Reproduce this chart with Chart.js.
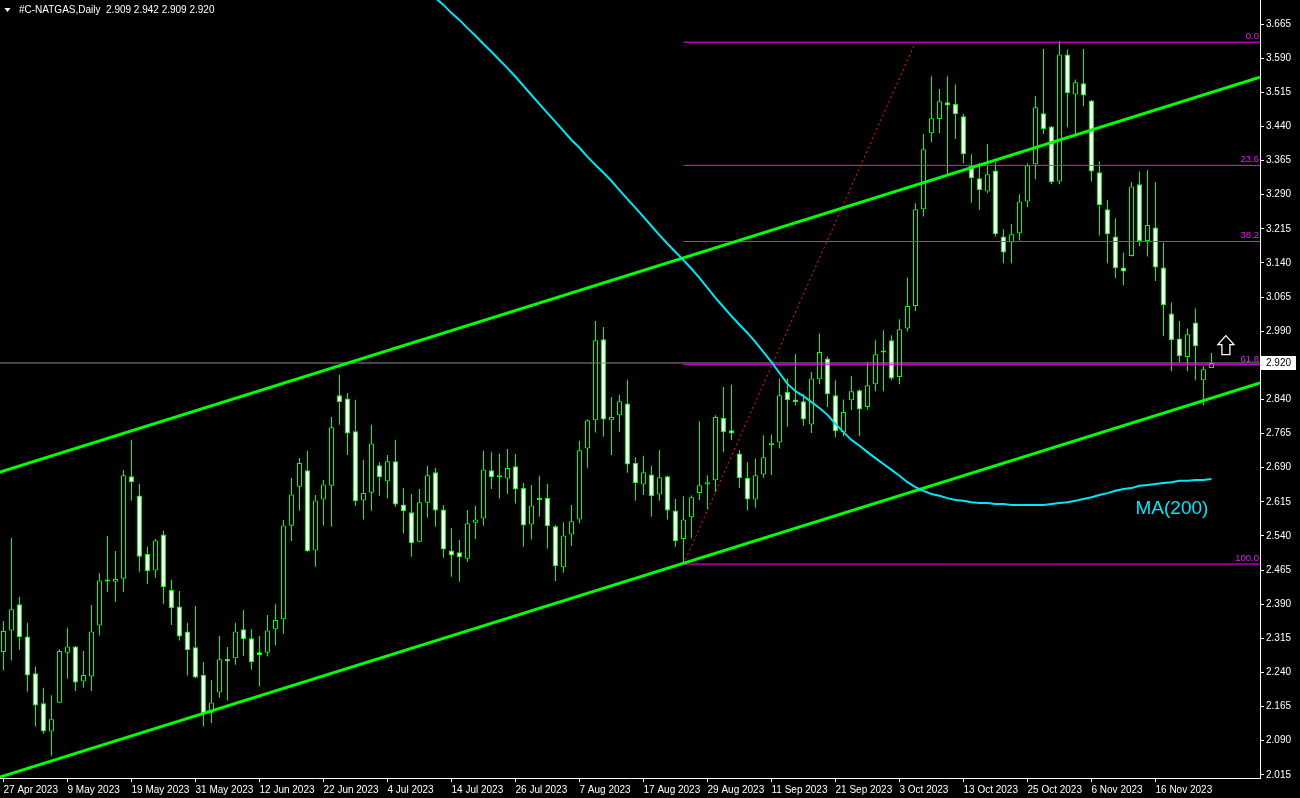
<!DOCTYPE html>
<html><head><meta charset="utf-8">
<script src="https://cdn.jsdelivr.net/npm/chart.js@4.4.0/dist/chart.umd.min.js"></script>
<style>html,body{margin:0;padding:0;background:#000;overflow:hidden}canvas{display:block}</style>
</head><body>
<canvas id="c" width="1300" height="798"></canvas>
<script>
// ---------------- DATA ----------------
const TITLE = '#C-NATGAS,Daily';
const TICK_BARS = [0,8,16,24,32,40,48,56,64,72,80,88,96,104,112,120,128,136,144];
const TICK_LABELS = ['27 Apr 2023','9 May 2023','19 May 2023','31 May 2023','12 Jun 2023','22 Jun 2023','4 Jul 2023','14 Jul 2023','26 Jul 2023','7 Aug 2023','17 Aug 2023','29 Aug 2023','11 Sep 2023','21 Sep 2023','3 Oct 2023','13 Oct 2023','25 Oct 2023','6 Nov 2023','16 Nov 2023'];
const Y_TICKS = [3.665,3.590,3.515,3.440,3.365,3.290,3.215,3.140,3.065,2.990,2.915,2.840,2.765,2.690,2.615,2.540,2.465,2.390,2.315,2.240,2.165,2.090,2.015];

const OPEN = [2.285,2.332,2.390,2.319,2.238,2.172,2.110,2.173,2.283,2.297,2.220,2.231,2.343,2.440,2.439,2.446,2.671,2.629,2.500,2.464,
2.543,2.421,2.385,2.330,2.295,2.234,2.151,2.196,2.270,2.271,2.335,2.315,2.284,2.283,2.335,2.357,2.562,2.648,2.684,2.508,
2.620,2.650,2.849,2.842,2.770,2.618,2.635,2.695,2.660,2.704,2.609,2.592,2.527,2.613,2.680,2.598,2.508,2.504,2.490,2.569,
2.578,2.684,2.673,2.666,2.693,2.645,2.565,2.620,2.623,2.561,2.471,2.543,2.576,2.732,2.794,2.972,2.794,2.805,2.831,2.700,
2.653,2.675,2.631,2.671,2.596,2.533,2.581,2.634,2.653,2.662,2.799,2.772,2.721,2.667,2.620,2.675,2.739,2.745,2.856,2.840,
2.836,2.785,2.884,2.930,2.849,2.768,2.838,2.860,2.823,2.873,2.943,2.970,2.889,2.996,3.045,3.258,3.425,3.456,3.493,3.489,
3.462,3.354,3.326,3.297,3.343,3.198,3.185,3.205,3.275,3.357,3.469,3.440,3.319,3.598,3.510,3.535,3.497,3.339,3.258,3.198,
3.130,3.155,3.313,3.188,3.218,3.130,3.029,2.974,2.933,3.009,2.882,2.909];
const HIGH = [2.353,2.536,2.406,2.349,2.253,2.206,2.190,2.291,2.338,2.298,2.287,2.388,2.458,2.540,2.507,2.685,2.751,2.654,2.516,2.533,
2.551,2.443,2.419,2.349,2.386,2.263,2.223,2.320,2.296,2.349,2.377,2.335,2.320,2.366,2.390,2.575,2.668,2.711,2.727,2.630,
2.663,2.801,2.894,2.854,2.839,2.707,2.784,2.702,2.718,2.751,2.645,2.632,2.643,2.694,2.689,2.608,2.557,2.531,2.597,2.606,
2.727,2.724,2.721,2.731,2.720,2.656,2.652,2.672,2.654,2.564,2.570,2.608,2.749,2.796,3.012,2.999,2.845,2.850,2.883,2.713,
2.716,2.694,2.729,2.672,2.621,2.627,2.629,2.792,2.673,2.805,2.867,2.872,2.728,2.702,2.710,2.761,2.763,2.886,2.886,2.940,
2.852,2.900,2.985,2.934,2.882,2.840,2.891,2.862,2.921,2.970,2.992,2.981,3.016,3.108,3.271,3.423,3.550,3.522,3.550,3.532,
3.467,3.379,3.359,3.401,3.361,3.214,3.225,3.291,3.359,3.506,3.610,3.441,3.627,3.609,3.543,3.610,3.498,3.363,3.278,3.238,
3.163,3.317,3.341,3.344,3.317,3.184,3.053,3.012,2.996,3.040,2.913,2.942];
const LOW = [2.244,2.266,2.290,2.198,2.121,2.105,2.057,2.172,2.226,2.199,2.206,2.199,2.321,2.417,2.395,2.417,2.617,2.461,2.434,2.448,
2.391,2.344,2.310,2.233,2.227,2.121,2.129,2.185,2.178,2.257,2.276,2.246,2.209,2.275,2.299,2.325,2.529,2.595,2.505,2.472,
2.562,2.560,2.784,2.718,2.606,2.576,2.595,2.628,2.622,2.604,2.545,2.494,2.526,2.580,2.560,2.492,2.450,2.439,2.483,2.533,
2.562,2.643,2.622,2.632,2.611,2.516,2.532,2.582,2.512,2.441,2.459,2.518,2.568,2.690,2.767,2.758,2.718,2.769,2.679,2.617,
2.630,2.582,2.617,2.576,2.516,2.479,2.535,2.619,2.598,2.636,2.724,2.750,2.646,2.596,2.602,2.668,2.674,2.732,2.780,2.827,
2.782,2.766,2.873,2.823,2.757,2.759,2.816,2.759,2.818,2.858,2.858,2.882,2.873,2.990,3.034,3.242,3.405,3.425,3.335,3.412,
3.359,3.272,3.257,3.293,3.198,3.139,3.139,3.189,3.262,3.324,3.423,3.313,3.313,3.438,3.423,3.484,3.319,3.200,3.139,3.106,
3.091,3.154,3.177,3.154,3.100,2.979,2.902,2.921,2.902,2.882,2.827,2.909];
const CLOSE = [2.331,2.379,2.318,2.233,2.167,2.110,2.137,2.287,2.297,2.218,2.234,2.330,2.442,2.441,2.445,2.673,2.658,2.494,2.462,2.530,
2.427,2.381,2.319,2.289,2.229,2.149,2.174,2.269,2.264,2.330,2.313,2.262,2.278,2.332,2.355,2.563,2.631,2.700,2.506,2.618,
2.653,2.779,2.834,2.765,2.616,2.634,2.743,2.669,2.704,2.609,2.594,2.524,2.614,2.673,2.596,2.510,2.497,2.493,2.568,2.576,
2.686,2.669,2.669,2.689,2.642,2.563,2.607,2.619,2.561,2.473,2.541,2.572,2.728,2.794,2.970,2.796,2.801,2.836,2.697,2.656,
2.680,2.627,2.669,2.596,2.528,2.576,2.625,2.651,2.658,2.801,2.768,2.765,2.667,2.620,2.673,2.713,2.743,2.849,2.838,2.834,
2.796,2.886,2.944,2.851,2.770,2.812,2.858,2.818,2.871,2.939,2.944,2.886,2.994,3.045,3.258,3.390,3.458,3.495,3.486,3.467,
3.379,3.326,3.300,3.335,3.203,3.163,3.203,3.275,3.354,3.482,3.434,3.317,3.598,3.513,3.537,3.508,3.341,3.267,3.203,3.128,
3.121,3.308,3.188,3.223,3.130,3.047,2.970,2.935,2.983,2.957,2.906,2.920];

const MA_START = 54;   // bar index of first MA(200) value shown
const MA200 = [3.722,3.707,3.689,3.674,3.656,3.639,3.621,3.604,3.586,3.568,3.549,3.529,3.509,3.489,3.469,3.450,3.430,3.410,3.393,3.373,
3.355,3.338,3.320,3.300,3.280,3.261,3.241,3.221,3.201,3.182,3.164,3.146,3.127,3.107,3.085,3.063,3.043,3.023,3.004,2.986,
2.966,2.944,2.922,2.898,2.874,2.858,2.847,2.834,2.821,2.806,2.786,2.768,2.751,2.738,2.724,2.711,2.698,2.685,2.672,2.658,
2.647,2.639,2.632,2.628,2.623,2.619,2.617,2.614,2.612,2.612,2.610,2.610,2.608,2.608,2.608,2.608,2.608,2.610,2.612,2.614,
2.617,2.621,2.625,2.630,2.634,2.639,2.643,2.645,2.650,2.652,2.654,2.656,2.658,2.661,2.661,2.663,2.663,2.665];

const X_MIN = -0.4375, X_MAX = 157.0625;
const Y_MAX = 3.71775, Y_MIN = 2.00786;
const UPPER_CHANNEL = [[X_MIN, 2.680], [X_MAX, 3.548]];
const LOWER_CHANNEL = [[X_MIN, 2.010], [X_MAX, 2.876]];
const FIB_START = 85, FIB_END = 114, FIB_HIGH = 3.625, FIB_LOW = 2.478;
const FIB_LEVELS = [0, 23.6, 38.2, 61.8, 100];
const BID = 2.920;
const ARROW = {x: 152.8, y: 2.958};
const MA_LABEL = {x: 141.5, y: 2.599, text: 'MA(200)'};

// ---------------- STYLE ----------------
const FONT = "'Liberation Sans',Arial,sans-serif";
const AXIS_PX = 10;
const GREEN = '#00ff00', CYAN = '#00e8f8', MAGENTA = '#ff00ff', RED = '#ff1a1a';

const N = OPEN.length;
const bars = OPEN.map((_, i) => i);
const fibPrice = l => FIB_HIGH - (FIB_HIGH - FIB_LOW) * l / 100;
const seg = pts => pts.map(p => ({x: p[0], y: p[1]}));
const lineDs = (data, color, width, extra) => Object.assign({
  type: 'line', data, borderColor: color, borderWidth: width, pointRadius: 0, fill: false, tension: 0, order: 1
}, extra || {});

const datasets = [
  { type: 'bar', data: bars.map(i => ({x: i, y: [LOW[i], HIGH[i]]})), backgroundColor: GREEN, borderWidth: 0,
    barThickness: 1, grouped: false, inflateAmount: 0, order: 10 },
  { type: 'bar', data: bars.map(i => ({x: i, y: [Math.min(OPEN[i], CLOSE[i]), Math.max(OPEN[i], CLOSE[i])]})),
    backgroundColor: bars.map(i => CLOSE[i] >= OPEN[i] ? '#000000' : '#ffffff'), borderColor: GREEN, borderWidth: 1,
    borderSkipped: false, barThickness: 5, grouped: false, inflateAmount: 0, minBarLength: 2, order: 9 },
  lineDs(seg([[X_MIN, BID], [X_MAX, BID]]), '#8c8c8c', 1, {order: 8}),
  ...FIB_LEVELS.map(l => lineDs(seg([[FIB_START, fibPrice(l)], [X_MAX, fibPrice(l)]]), MAGENTA, 1, {order: 7})),
  lineDs(seg([[FIB_START, FIB_LOW], [FIB_END, FIB_HIGH]]), RED, 1, {borderDash: [2, 3], order: 6}),
  lineDs(seg(UPPER_CHANNEL), GREEN, 3, {order: 5}),
  lineDs(seg(LOWER_CHANNEL), GREEN, 3, {order: 5}),
  lineDs(MA200.map((v, i) => ({x: MA_START + i, y: v})), CYAN, 2, {order: 4})
];

const annot = {
  id: 'annot',
  beforeDraw(chart) {
    const c = chart.ctx; c.save(); c.fillStyle = '#000'; c.fillRect(0, 0, chart.width, chart.height); c.restore();
  },
  afterDatasetsDraw(chart) {
    const c = chart.ctx, xs = chart.scales.x, ys = chart.scales.y, a = chart.chartArea;
    c.save();
    // fib labels
    c.font = '9.5px ' + FONT; c.textAlign = 'right'; c.textBaseline = 'bottom'; c.fillStyle = '#e020f0';
    FIB_LEVELS.forEach(l => c.fillText(l.toFixed(1), a.right - 1, ys.getPixelForValue(fibPrice(l)) - 1));
    // MA label
    c.font = '19px ' + FONT; c.textAlign = 'left'; c.textBaseline = 'middle'; c.fillStyle = CYAN;
    c.fillText(MA_LABEL.text, xs.getPixelForValue(MA_LABEL.x), ys.getPixelForValue(MA_LABEL.y));
    // arrow
    const ax = xs.getPixelForValue(ARROW.x), ay = ys.getPixelForValue(ARROW.y);
    c.beginPath();
    c.moveTo(ax, ay - 10); c.lineTo(ax + 8, ay - 1); c.lineTo(ax + 4, ay - 1); c.lineTo(ax + 4, ay + 9);
    c.lineTo(ax - 4, ay + 9); c.lineTo(ax - 4, ay - 1); c.lineTo(ax - 8, ay - 1); c.closePath();
    c.strokeStyle = '#ffffff'; c.lineWidth = 1.3; c.stroke();
    // title
    c.fillStyle = '#ffffff';
    c.beginPath(); c.moveTo(4.5, 8); c.lineTo(10.5, 8); c.lineTo(7.5, 12); c.closePath(); c.fill();
    c.font = AXIS_PX + 'px ' + FONT; c.textAlign = 'left'; c.textBaseline = 'middle';
    c.fillText(TITLE + '  ' + [OPEN[N-1], HIGH[N-1], LOW[N-1], CLOSE[N-1]].map(v => v.toFixed(3)).join(' '), 19, 10.5);
    c.restore();
  },
  afterDraw(chart) {
    const c = chart.ctx, ys = chart.scales.y, a = chart.chartArea;
    const py = Math.round(ys.getPixelForValue(CLOSE[N-1]));
    c.save();
    c.fillStyle = '#ffffff'; c.fillRect(a.right + 1, py - 7, 35, 14);
    c.fillStyle = '#000000'; c.font = AXIS_PX + 'px ' + FONT; c.textAlign = 'left'; c.textBaseline = 'middle';
    c.fillText(CLOSE[N-1].toFixed(3), a.right + 6, py + 0.5);
    c.restore();
  }
};

new Chart(document.getElementById('c'), {
  type: 'bar',
  data: { datasets },
  plugins: [annot],
  options: {
    responsive: false, animation: false, devicePixelRatio: 1, events: [],
    layout: { padding: 0 },
    plugins: { legend: { display: false }, tooltip: { enabled: false } },
    scales: {
      x: {
        type: 'linear', min: X_MIN, max: X_MAX, offset: false, bounds: 'data',
        afterBuildTicks: s => { s.ticks = TICK_BARS.map(v => ({value: v})); },
        afterFit: s => { s.height = 20; s.paddingLeft = 0; s.paddingRight = 0; },
        grid: { drawOnChartArea: false, drawTicks: true, tickLength: 4, color: '#ffffff', offset: false },
        border: { display: true, color: '#ffffff', width: 1 },
        ticks: { autoSkip: false, maxRotation: 0, minRotation: 0, align: 'start', color: '#ffffff', padding: 2,
          font: { family: FONT, size: AXIS_PX },
          callback: v => { const j = TICK_BARS.indexOf(v); return j >= 0 ? TICK_LABELS[j] : ''; } }
      },
      y: {
        type: 'linear', position: 'right', min: Y_MIN, max: Y_MAX, bounds: 'data',
        afterBuildTicks: s => { s.ticks = Y_TICKS.map(v => ({value: v})); },
        afterFit: s => { s.width = 40; s.paddingTop = 0; s.paddingBottom = 0; },
        grid: { drawOnChartArea: false, drawTicks: true, tickLength: 4, color: '#ffffff' },
        border: { display: true, color: '#ffffff', width: 1 },
        ticks: { color: '#ffffff', padding: 2, font: { family: FONT, size: AXIS_PX }, callback: v => v.toFixed(3) }
      }
    }
  }
});
</script>
</body></html>
